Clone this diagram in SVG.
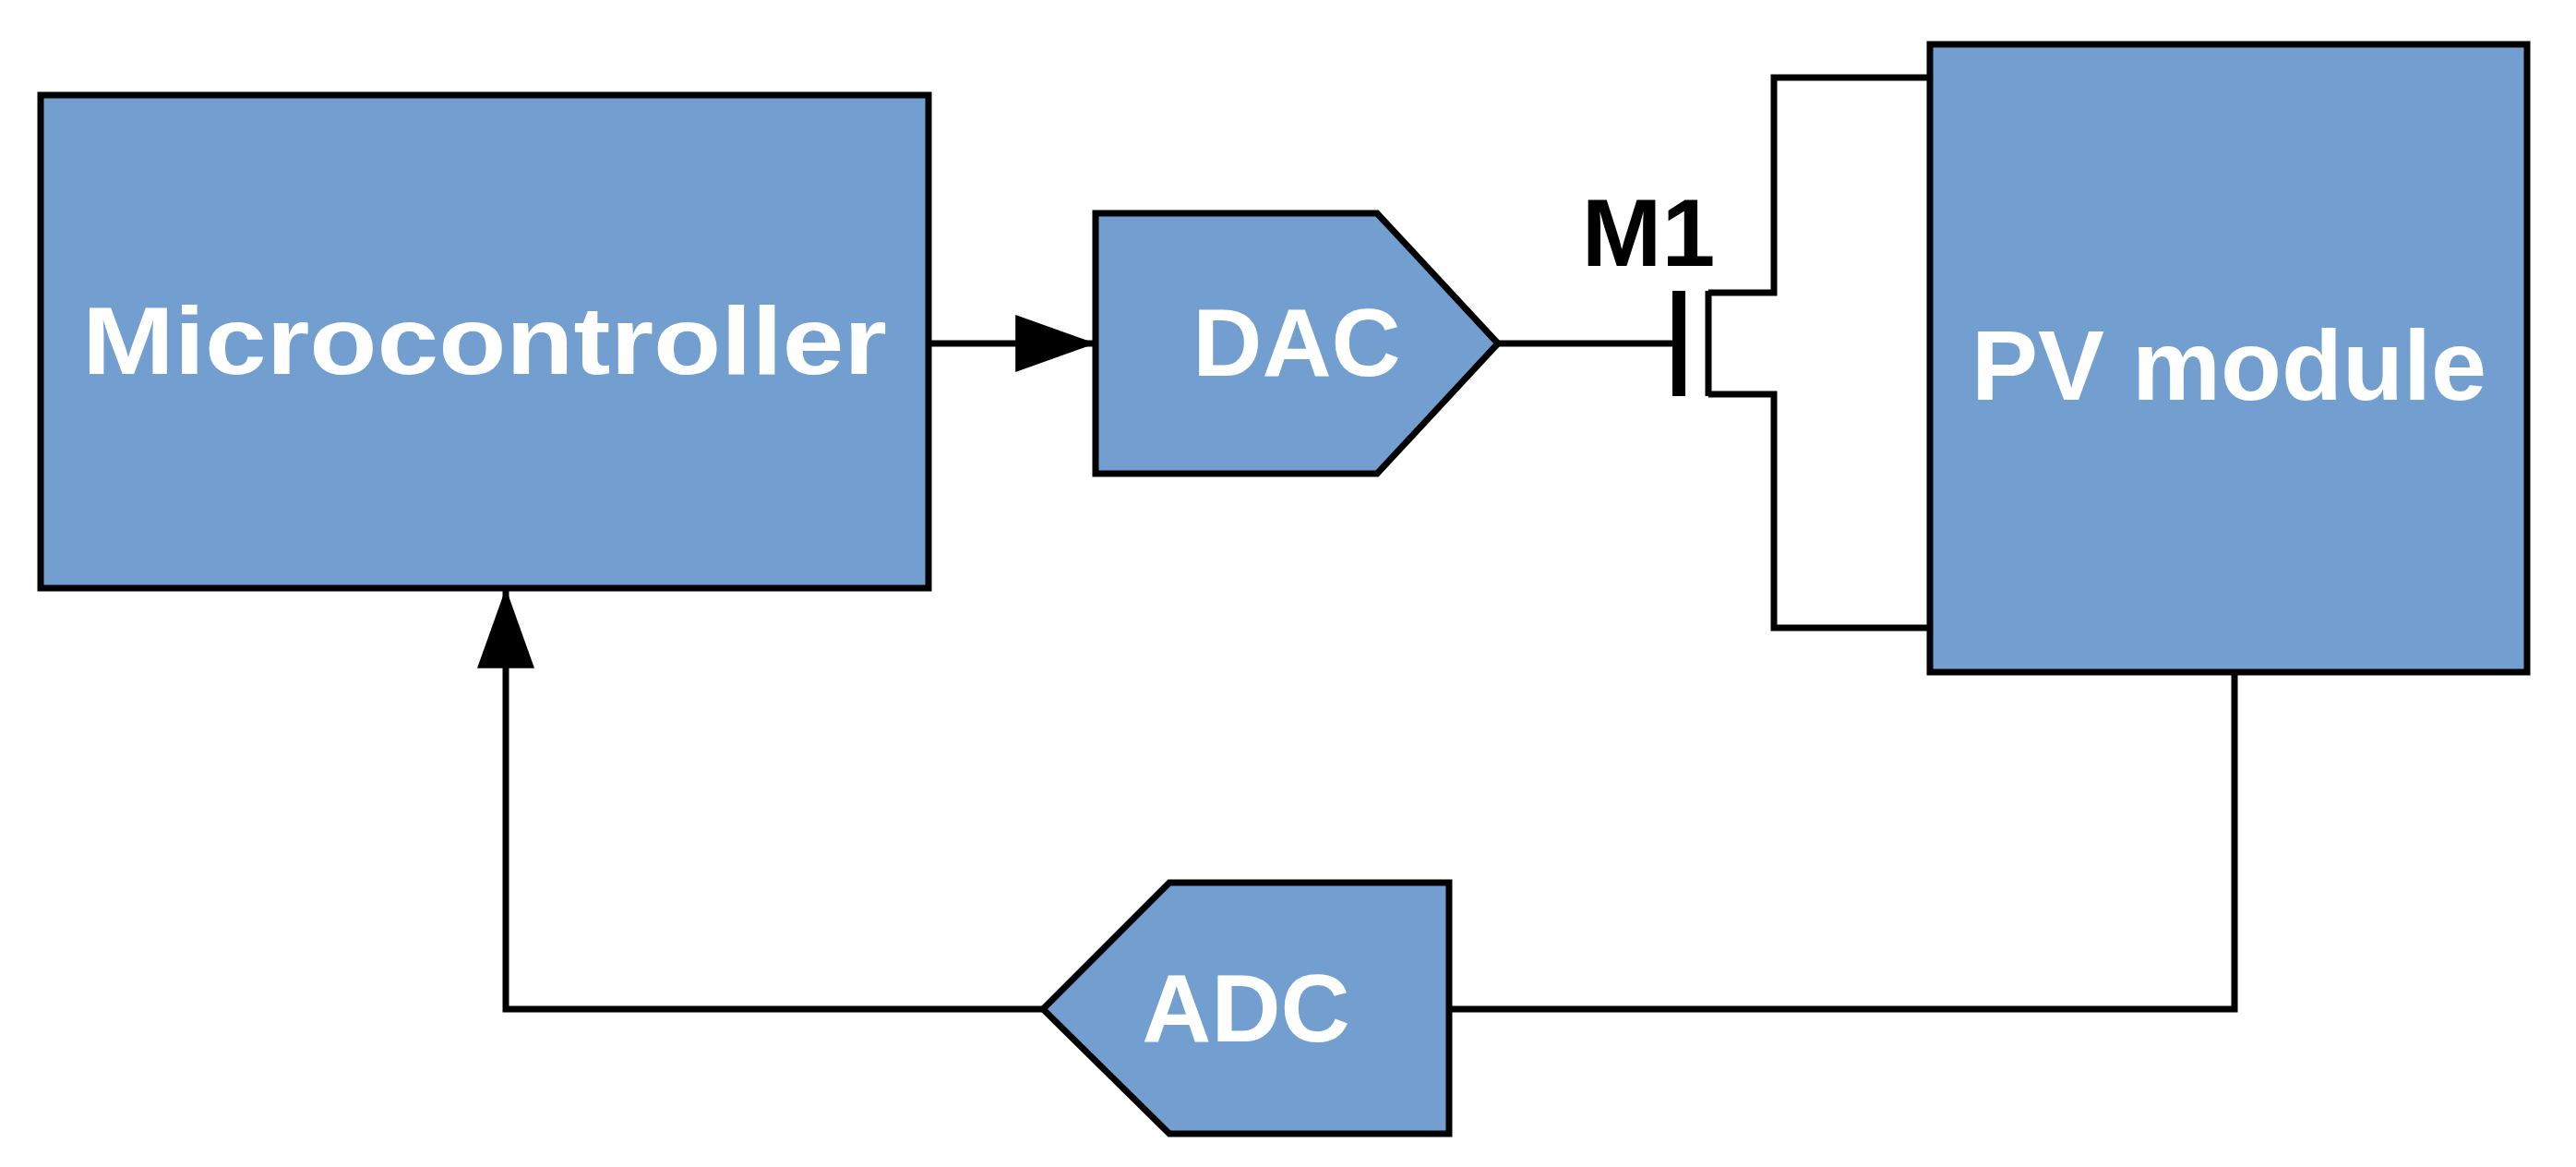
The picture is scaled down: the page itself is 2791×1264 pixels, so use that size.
<svg xmlns="http://www.w3.org/2000/svg" width="2791" height="1264" viewBox="0 0 2791 1264">
<style>
.n{fill:#729fcf;stroke:#000;stroke-width:7;stroke-linejoin:miter}
.w{fill:none;stroke:#000;stroke-width:7}
.t{font-family:"Liberation Sans",Arial,sans-serif;font-weight:bold;fill:#fff;text-anchor:middle}
</style>
<defs><marker id="a" markerWidth="14" markerHeight="10" refX="14" refY="5" orient="auto" markerUnits="userSpaceOnUse" viewBox="0 0 14 10"><path d="M0,0L14,5L0,10z" fill="#000"/></marker>
<marker id="ah" viewBox="0 0 14 10" refX="14" refY="5" markerWidth="90" markerHeight="62" orient="auto" markerUnits="userSpaceOnUse"><path d="M0,0L14,5L0,10z" fill="#000"/></marker></defs>
<g id="connectors">
<path class="w" d="M1006,372H1187" marker-end="url(#ah)"/>
<path class="w" d="M1623,372H1819"/>
<path class="w" d="M1819,315V429" style="stroke-width:14"/>
<path class="w" d="M1851,315V429M1851,317H1922V84H2091M1851,427H1922V680H2091"/>
<path class="w" d="M1570,1093H2421V728"/>
<path class="w" d="M1130,1093H548V637" marker-end="url(#ah)"/>
</g>
<g id="microcontroller"><rect class="n" x="44" y="103" width="962" height="534"/><text class="t" x="525" y="405" font-size="104" textLength="872" lengthAdjust="spacingAndGlyphs">Microcontroller</text></g>
<g id="dac"><path class="n" d="M1187,231H1492L1623,372L1492,513H1187Z"/><text class="t" x="1405" y="407" font-size="104">DAC</text></g>
<g id="m1"><text x="1786" y="288" font-family="Liberation Sans,Arial,sans-serif" font-weight="bold" font-size="104" text-anchor="middle">M1</text></g>
<g id="pv"><rect class="n" x="2091" y="48" width="647" height="680"/><text class="t" x="2415" y="433" font-size="108">PV module</text></g>
<g id="adc"><path class="n" d="M1570,956H1267L1130,1093L1267,1228H1570Z"/><text class="t" x="1350" y="1128" font-size="104">ADC</text></g>
</svg>
